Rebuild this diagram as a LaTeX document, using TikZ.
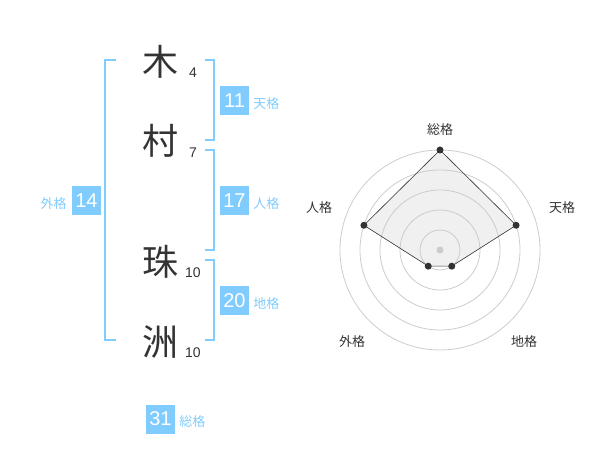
\documentclass[tikz,border=0pt]{standalone}
\usepackage{fontspec}
\setmainfont{Liberation Sans}
\newfontfamily\jp{Noto Sans CJK JP}
\usetikzlibrary{positioning}
\definecolor{kakublue}{HTML}{80CCFF}
\definecolor{ink}{HTML}{333333}
\tikzstyle{kanji}=[font=\jp\fontsize{36}{40}\selectfont,text=ink,inner sep=0pt]
\tikzstyle{strokenum}=[font=\fontsize{14}{16}\selectfont,text=ink,inner sep=0pt]
\tikzstyle{numbox}=[fill=kakublue,text=white,font=\fontsize{20}{22}\selectfont,minimum size=29pt,inner sep=0pt]
\tikzstyle{kaku}=[font=\jp\fontsize{13}{15}\selectfont,text=kakublue,inner sep=0pt]
\tikzstyle{bracket}=[draw=kakublue,line width=2pt]
\tikzstyle{ring}=[draw=black!20,line width=0.8pt]
\tikzstyle{axislabel}=[font=\jp\fontsize{13}{15}\selectfont,text=ink,inner sep=0pt]
\tikzstyle{dot}=[circle,fill=ink,inner sep=0pt,minimum size=7pt]

\begin{document}
\begin{tikzpicture}[x=1pt,y=-1pt]
\useasboundingbox (0,0) rectangle (600,470);

% name
\node[kanji] (k1) at (160,62) {木};
\node[kanji] (k2) at (160,141) {村};
\node[kanji] (k3) at (160,262) {珠};
\node[kanji] (k4) at (160,342) {洲};
\node[strokenum] (s1) at (193,73) {4};
\node[strokenum] (s2) at (193,153) {7};
\node[strokenum] (s3) at (193,273) {10};
\node[strokenum] (s4) at (193,353) {10};

% brackets
\draw[bracket] (116,60) -- (105,60) -- (105,340) -- (116,340);
\draw[bracket] (205,60) -- (214,60) -- (214,140) -- (205,140);
\draw[bracket] (205,150) -- (214,150) -- (214,250) -- (205,250);
\draw[bracket] (205,260) -- (214,260) -- (214,340) -- (205,340);

% kaku
\node[numbox] (ten) at (234.5,100.5) {11};
\node[kaku,right=4pt of ten,yshift=-3pt] (tenl) {天格};
\node[numbox] (jin) at (234.5,200.5) {17};
\node[kaku,right=4pt of jin,yshift=-3pt] (jinl) {人格};
\node[numbox] (chi) at (234.5,300.5) {20};
\node[kaku,right=4pt of chi,yshift=-3pt] (chil) {地格};
\node[numbox] (gai) at (86.5,200.5) {14};
\node[kaku,left=5pt of gai,yshift=-3pt] (gail) {外格};
\node[numbox] (so) at (160.5,419) {31};
\node[kaku,right=4pt of so,yshift=-3pt] (sol) {総格};

% radar
\coordinate (c) at (440,250);
\foreach \a/\r/\n in {-90/100/so,-18/80/ten,54/20/chi,126/20/gai,198/80/jin}
  \path (c) ++(\a:\r) coordinate (p\n);
\fill[black!6] (pso) -- (pten) -- (pchi) -- (pgai) -- (pjin) -- cycle;
\foreach \r in {20,40,...,100}
  \draw[ring] (c) circle (\r pt);
\draw[ink,line width=0.6pt] (pso) -- (pten) -- (pchi) -- (pgai) -- (pjin) -- cycle;
\foreach \n in {so,ten,chi,gai,jin}
  \node[dot] at (p\n) {};
\node[dot,fill=black!20] (mid) at (c) {};
\node[axislabel] (aso) at (440,130) {総格};
\node[axislabel] (aten) at (562,208) {天格};
\node[axislabel] (ajin) at (319,208) {人格};
\node[axislabel] (agai) at (352,342) {外格};
\node[axislabel] (achi) at (524,342) {地格};
\end{tikzpicture}
\end{document}
